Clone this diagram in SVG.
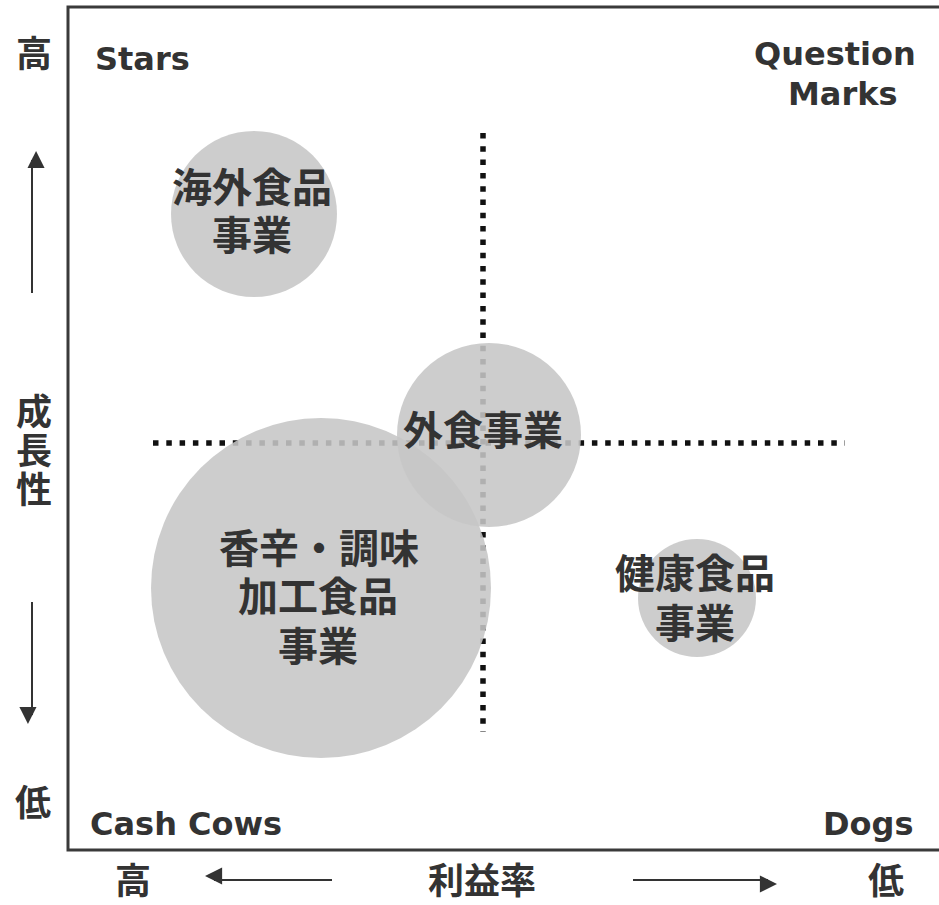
<svg xmlns="http://www.w3.org/2000/svg" width="939" height="905" viewBox="0 0 939 905">
<style>
.lat{font-family:"DejaVu Sans","Liberation Sans",sans-serif;font-weight:bold;font-size:32px;fill:#333}
.jp{font-family:"Noto Sans CJK JP","Noto Sans",sans-serif;font-weight:bold;fill:#333}
.c40{font-size:40px;text-anchor:middle}
.ax{font-size:36px;text-anchor:middle}
.bub{fill:#c6c6c6;fill-opacity:0.88}
.dot{stroke:#111;stroke-width:5.5;stroke-dasharray:5.5 7.8;fill:none}
.arr{stroke:#333;stroke-width:2;fill:none}
</style>
<defs>
<marker id="ah" viewBox="0 0 10 10" refX="9" refY="5" markerWidth="9" markerHeight="9" markerUnits="userSpaceOnUse" orient="auto" overflow="visible">
<path d="M0,0 L10,5 L0,10 Z" fill="#333" transform="scale(1.9)"/>
</marker>
</defs>
<rect width="939" height="905" fill="#fff"/>
<path d="M939,7 H68 V850 H939" fill="none" stroke="#3a3a3a" stroke-width="3"/>

<g id="connectors">
<line class="dot" x1="153" y1="443" x2="845" y2="443"/>
<line class="dot" x1="483" y1="133" x2="483" y2="732"/>
<line class="arr" x1="32" y1="293" x2="32" y2="160" marker-end="url(#ah)"/>
<line class="arr" x1="32" y1="602" x2="32" y2="715" marker-end="url(#ah)"/>
<line class="arr" x1="332" y1="880" x2="214" y2="880" marker-end="url(#ah)"/>
<line class="arr" x1="633" y1="880" x2="768" y2="880" marker-end="url(#ah)"/>
</g>

<g id="node-kaigai">
<circle class="bub" cx="254" cy="214" r="83"/>
<text class="jp c40" x="252" y="202">海外食品</text>
<text class="jp c40" x="252" y="250">事業</text>
</g>
<g id="node-koushin">
<circle class="bub" cx="321" cy="588" r="170"/>
</g>
<g id="node-gaishoku">
<circle class="bub" cx="489" cy="435" r="92"/>
<text class="jp c40" x="483" y="445">外食事業</text>
</g>
<g id="node-koushin-label">
<text class="jp c40" x="319" y="563">香辛・調味</text>
<text class="jp c40" x="318" y="611">加工食品</text>
<text class="jp c40" x="318" y="661">事業</text>
</g>
<g id="node-kenkou">
<circle class="bub" cx="697" cy="598" r="59"/>
<text class="jp c40" x="695" y="588">健康食品</text>
<text class="jp c40" x="695" y="638">事業</text>
</g>

<g id="labels">
<text class="lat" x="95" y="70">Stars</text>
<text class="lat" x="754" y="65">Question</text>
<text class="lat" x="788" y="105">Marks</text>
<text class="lat" x="90" y="835">Cash Cows</text>
<text class="lat" x="823" y="835">Dogs</text>
<text class="jp ax" x="34" y="67">高</text>
<text class="jp ax" x="34" y="425">成</text>
<text class="jp ax" x="34" y="464">長</text>
<text class="jp ax" x="34" y="503">性</text>
<text class="jp ax" x="33" y="816">低</text>
<text class="jp ax" x="133" y="894">高</text>
<text class="jp ax" x="482" y="894">利益率</text>
<text class="jp ax" x="886" y="894">低</text>
</g>
</svg>
